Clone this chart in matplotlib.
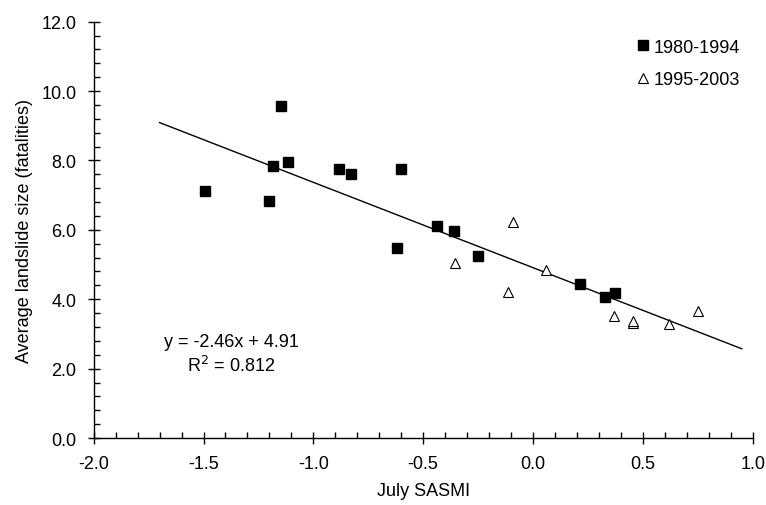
import matplotlib
matplotlib.use("Agg")
import matplotlib.pyplot as plt
import numpy as np
from matplotlib.ticker import MultipleLocator, FormatStrFormatter

plt.rcParams['font.family'] = ['Liberation Sans', 'DejaVu Sans']

x_8094 = [-1.493, -1.201, -1.185, -1.149, -1.114, -0.883, -0.827, -0.618, -0.603,
          -0.439, -0.360, -0.251, 0.213, 0.327, 0.373]
y_8094 = [7.11, 6.84, 7.85, 9.58, 7.95, 7.75, 7.62, 5.48, 7.75,
          6.11, 5.97, 5.25, 4.44, 4.07, 4.17]
x_9503 = [-0.355, -0.113, -0.093, 0.059, 0.370, 0.453, 0.453, 0.620, 0.749]
y_9503 = [5.04, 4.22, 6.22, 4.85, 3.53, 3.32, 3.37, 3.29, 3.65]

slope, intercept = -2.46, 4.91
fit_range = [-1.7, 0.95]

fig = plt.figure(figsize=(7.66, 5.06), dpi=100)
ax = fig.add_axes([0.1223, 0.1324, 0.8603, 0.8227])

xf = np.array(fit_range)
ax.plot(xf, slope * xf + intercept, color='black', lw=1.0, zorder=1)
ax.plot(x_8094, y_8094, 's', color='black', ms=6.5, mec='black', label='1980-1994', zorder=3)
ax.plot(x_9503, y_9503, '^', mfc='white', mec='black', mew=0.8, ms=6.5, label='1995-2003', zorder=3)

ax.set_xlim(-2.0, 1.0)
ax.set_ylim(0, 12.0)
ax.xaxis.set_major_locator(MultipleLocator(0.5))
ax.xaxis.set_minor_locator(MultipleLocator(0.1))
ax.yaxis.set_major_locator(MultipleLocator(2.0))
ax.yaxis.set_minor_locator(MultipleLocator(0.4))
ax.xaxis.set_major_formatter(FormatStrFormatter('%.1f'))
ax.yaxis.set_major_formatter(FormatStrFormatter('%.1f'))
ax.tick_params(which='major', direction='inout', length=9, width=1, labelsize=13, pad=8)
ax.tick_params(which='minor', direction='in', length=4, width=1)
for s in ['top', 'right']:
    ax.spines[s].set_visible(False)
for s in ['left', 'bottom']:
    ax.spines[s].set_linewidth(1.0)

ax.set_xlabel('July SASMI', fontsize=13, labelpad=7)
ax.set_ylabel('Average landslide size (fatalities)', fontsize=13, labelpad=6)

ax.text(-1.375, 2.42, 'y = -2.46x + 4.91\nR$^2$ = 0.812', ha='center', va='center',
        fontsize=13, linespacing=1.3)

leg = ax.legend(loc='upper right', frameon=False, fontsize=13, handlelength=0.6,
                handletextpad=0.3, borderaxespad=0.3, labelspacing=0.85,
                bbox_to_anchor=(1.0, 0.99))

fig.savefig('out.png', dpi=100)
